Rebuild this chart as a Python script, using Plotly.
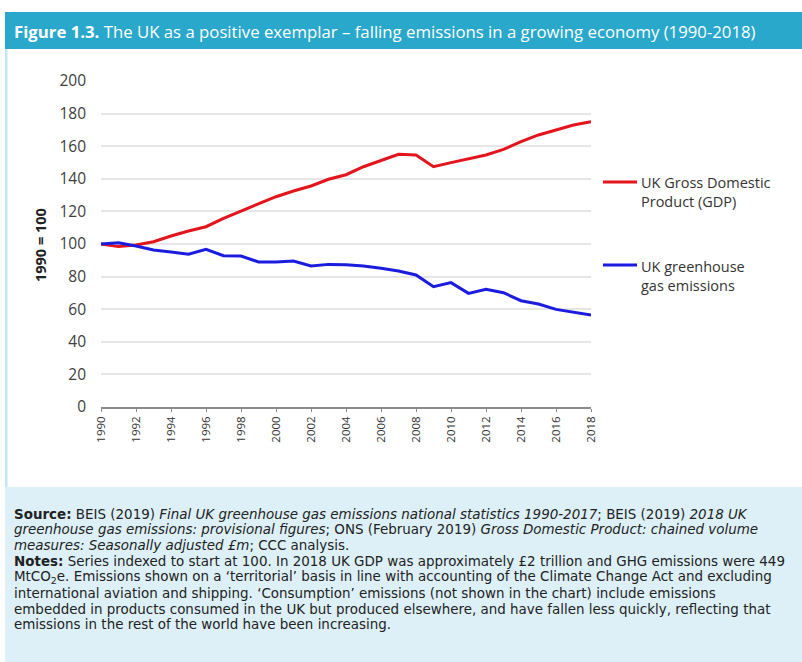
import plotly.graph_objects as go

# ---------------- data ----------------
years = list(range(1990, 2019))
gdp_index = [100, 98.4, 99.4, 101.4, 104.9, 108.0, 110.6, 115.7, 120.2, 124.5,
             129.0, 132.5, 135.6, 139.7, 142.5, 147.4, 151.1, 155.0, 154.6, 147.4,
             149.9, 152.4, 154.6, 158.0, 162.8, 166.9, 169.9, 173.0, 175.0]
ghg_index = [100, 100.8, 98.8, 96.3, 95.1, 93.7, 96.7, 92.8, 92.6, 89.0,
             89.0, 89.6, 86.5, 87.5, 87.3, 86.5, 85.1, 83.4, 81.0, 73.8,
             76.3, 69.7, 72.2, 70.1, 65.2, 63.2, 59.9, 58.1, 56.4]
series_names = ["UK Gross Domestic<br>Product (GDP)", "UK greenhouse<br>gas emissions"]
y_ticks = [0, 20, 40, 60, 80, 100, 120, 140, 160, 180, 200]
x_ticks = list(range(1990, 2019, 2))

title_html = "<b>Figure 1.3.</b> The UK as a positive exemplar \u2013 falling emissions in a growing economy (1990-2018)"
footer_lines = [
    "<b>Source:</b> BEIS (2019) <i>Final UK greenhouse gas emissions national statistics 1990-2017</i>; BEIS (2019) <i>2018 UK</i>",
    "<i>greenhouse gas emissions: provisional figures</i>; ONS (February 2019) <i>Gross Domestic Product: chained volume</i>",
    "<i>measures: Seasonally adjusted \u00a3m</i>; CCC analysis.",
    "<b>Notes:</b> Series indexed to start at 100. In 2018 UK GDP was approximately \u00a32 trillion and GHG emissions were 449",
    "MtCO<sub>2</sub>e. Emissions shown on a \u2018territorial\u2019 basis in line with accounting of the Climate Change Act and excluding",
    "international aviation and shipping. \u2018Consumption\u2019 emissions (not shown in the chart) include emissions",
    "embedded in products consumed in the UK but produced elsewhere, and have fallen less quickly, reflecting that",
    "emissions in the rest of the world have been increasing.",
]

# ---------------- layout geometry ----------------
W, H = 802, 662
L, R, T, B = 101, 211, 81, 255
PW, PH = W - L - R, H - T - B

def px(x):
    return (x - L) / PW

def py(y):
    return (H - B - y) / PH

RED = "#e3141b"
BLUE = "#1c1ce0"
FONT = "Open Sans"
FOOT_FONT = "DejaVu Sans"

fig = go.Figure()
fig.add_trace(go.Scatter(x=years, y=gdp_index, mode="lines", name=series_names[0],
                         line=dict(color=RED, width=3), showlegend=False))
fig.add_trace(go.Scatter(x=years, y=ghg_index, mode="lines", name=series_names[1],
                         line=dict(color=BLUE, width=3), showlegend=False))

shapes = [
    # title bar
    dict(type="rect", xref="paper", yref="paper", x0=px(5), x1=px(802), y0=py(49), y1=py(12),
         fillcolor="#2aa8cc", line=dict(width=0), layer="below"),
    # left border of chart panel
    dict(type="rect", xref="paper", yref="paper", x0=px(5), x1=px(7.5), y0=py(487), y1=py(49),
         fillcolor="#c4e6f4", line=dict(width=0), layer="below"),
    # footer panel
    dict(type="rect", xref="paper", yref="paper", x0=px(5), x1=px(802), y0=py(662), y1=py(487),
         fillcolor="#ddf0f8", line=dict(width=0), layer="below"),
    # legend samples
    dict(type="line", xref="paper", yref="paper", x0=px(603), x1=px(637), y0=py(182), y1=py(182),
         line=dict(color=RED, width=3)),
    dict(type="line", xref="paper", yref="paper", x0=px(603), x1=px(637), y0=py(265), y1=py(265),
         line=dict(color=BLUE, width=3)),
]

annotations = [
    dict(text=title_html, x=px(12), y=py(31), xref="paper", yref="paper", xanchor="left",
         yanchor="middle", showarrow=False, font=dict(family=FONT, size=16.75, color="white")),
    dict(text="<b>1990 = 100</b>", x=px(40), y=py(245), xref="paper", yref="paper",
         textangle=-90, showarrow=False, xanchor="center", yanchor="middle",
         font=dict(family=FONT, size=14.5, color="#222222")),
    dict(text=series_names[0], x=px(639), y=py(192), xref="paper", yref="paper", xanchor="left",
         yanchor="middle", align="left", showarrow=False,
         font=dict(family=FONT, size=14.5, color="#333333")),
    dict(text=series_names[1], x=px(639), y=py(276), xref="paper", yref="paper", xanchor="left",
         yanchor="middle", align="left", showarrow=False,
         font=dict(family=FONT, size=14.5, color="#333333")),
]
line_y = [514, 529.6, 545.2, 561, 577, 593, 609, 624.5]
for txt, ly in zip(footer_lines, line_y):
    annotations.append(dict(text=txt, x=px(12), y=py(ly), xref="paper", yref="paper",
                            xanchor="left", yanchor="middle", showarrow=False, align="left",
                            font=dict(family=FOOT_FONT, size=13.45, color="#222222")))

fig.update_layout(
    width=W, height=H,
    margin=dict(l=L, r=R, t=T, b=B, pad=0),
    paper_bgcolor="white", plot_bgcolor="white",
    shapes=shapes, annotations=annotations,
    showlegend=False,
    xaxis=dict(range=[1990, 2018], tickmode="array", tickvals=x_ticks,
               ticktext=[str(v) for v in x_ticks], tickangle=-90,
               showgrid=False, zeroline=False, showline=True, linecolor="#8a8a8a", linewidth=1.5,
               ticks="outside", ticklen=3, tickcolor="#8a8a8a", tickwidth=1,
               tickfont=dict(family=FONT, size=11.5, color="#333333"), fixedrange=True),
    yaxis=dict(range=[0, 200], tickmode="array", tickvals=y_ticks,
               showgrid=True, gridcolor="#e6e6e6", gridwidth=1.5, zeroline=False, showline=False,
               ticks="", ticklabelstandoff=14,
               tickfont=dict(family=FONT, size=15.5, color="#404040"), fixedrange=True),
)

fig.write_html("out.html", config={"displayModeBar": False},
               post_script="document.body.style.margin='0';document.body.style.overflow='hidden';")
